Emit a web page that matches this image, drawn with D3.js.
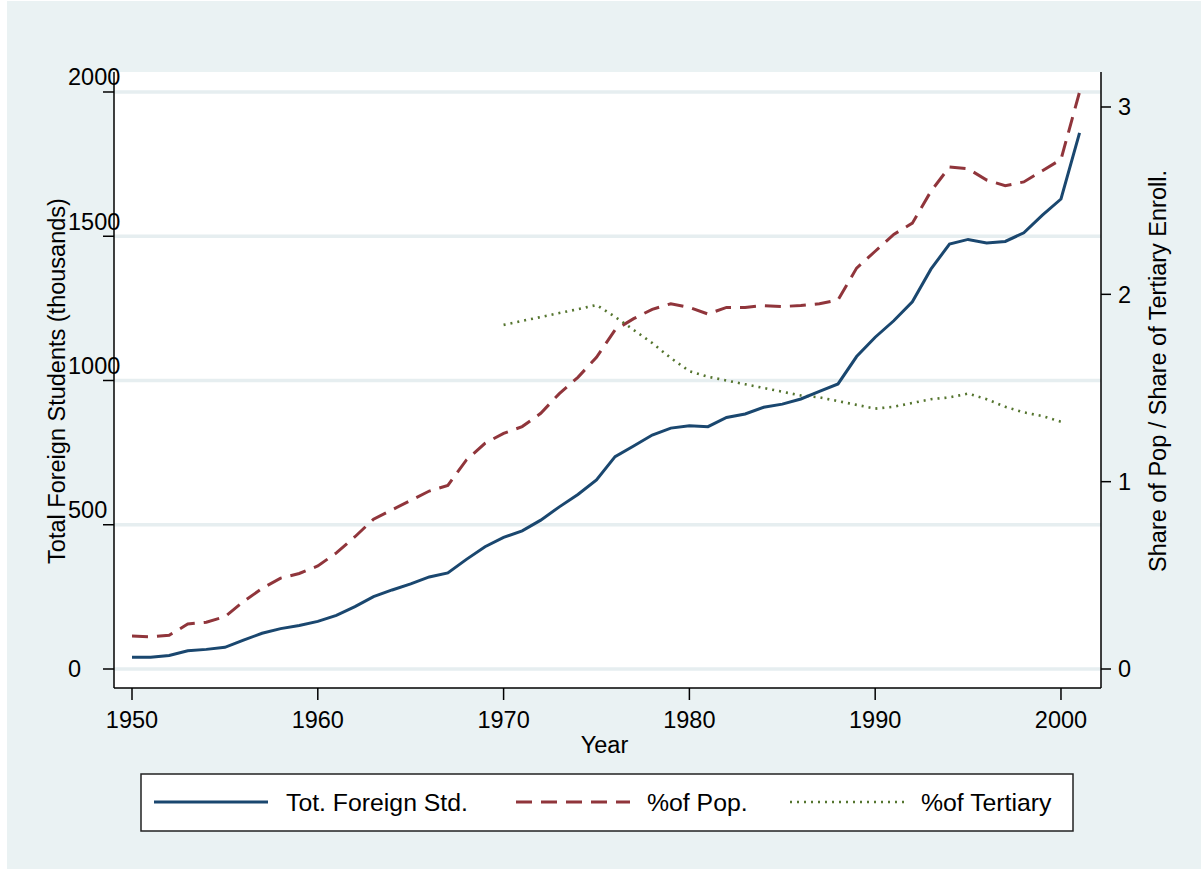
<!DOCTYPE html>
<html><head><meta charset="utf-8">
<script src="https://cdn.jsdelivr.net/npm/d3@7"></script>
<style>body{margin:0;background:#fff}svg{display:block}text{font-family:"Liberation Sans",Arial,sans-serif;fill:#000}</style>
</head><body><svg id="c" width="1201" height="869"></svg>
<script>
const years = d3.range(1950, 2002);
const totForeign = [41,41,47,63,68,75,100,124,140,151,165,186,216,251,274,295,319,333,380,424,456,479,516,562,605,655,736,773,811,835,843,840,872,884,907,918,936,962,988,1083,1150,1207,1273,1386,1473,1489,1477,1482,1512,1573,1629,1858];
const pctPop = [0.176,0.172,0.18,0.24,0.25,0.279,0.36,0.43,0.485,0.51,0.55,0.62,0.706,0.80,0.85,0.90,0.95,0.98,1.116,1.205,1.258,1.294,1.365,1.47,1.557,1.664,1.81,1.87,1.92,1.95,1.93,1.895,1.93,1.93,1.94,1.935,1.94,1.95,1.97,2.14,2.23,2.32,2.38,2.55,2.68,2.67,2.61,2.58,2.60,2.66,2.72,3.08];
const tertYears = d3.range(1970, 2001);
const pctTertiary = [1.837,1.858,1.879,1.900,1.921,1.943,1.88,1.81,1.74,1.66,1.59,1.56,1.54,1.52,1.50,1.48,1.46,1.45,1.43,1.41,1.39,1.40,1.42,1.44,1.45,1.47,1.44,1.40,1.37,1.35,1.32];
const xTicks = [1950,1960,1970,1980,1990,2000];
const yLeftTicks = [0,500,1000,1500,2000];
const yRightTicks = [0,1,2,3];
const legendLabels = ["Tot. Foreign Std.","%of Pop.","%of Tertiary"];

const svg = d3.select("#c");
const FONT = 23.5;
const bg = "#eaf2f3";
const L=114, R=1101, T=72, B=688;
svg.append("rect").attr("x",7).attr("y",1).attr("width",1194).attr("height",868).attr("fill",bg);
svg.append("rect").attr("x",L).attr("y",T).attr("width",R-L).attr("height",B-T).attr("fill","#fff");

const x = d3.scaleLinear().domain([1949.031,2002.154]).range([L,R]);
const yL = d3.scaleLinear().domain([-65.86,2069.3]).range([B,T]);
const yR = d3.scaleLinear().domain([-0.1014,3.1868]).range([B,T]);

// gridlines
svg.append("g").selectAll("line").data(yLeftTicks).join("line")
  .attr("x1",L).attr("x2",R).attr("y1",d=>yL(d)).attr("y2",d=>yL(d))
  .attr("stroke","#e6eef0").attr("stroke-width",3.5);

// lines
const colBlue="#1a476f", colRed="#90353b", colGreen="#55752f";
svg.append("path").datum(years.map((y,i)=>[y,pctPop[i]]))
  .attr("d",d3.line().x(d=>x(d[0])).y(d=>yR(d[1])))
  .attr("fill","none").attr("stroke",colRed).attr("stroke-width",3).attr("stroke-dasharray","16,9");
svg.append("path").datum(tertYears.map((y,i)=>[y,pctTertiary[i]]))
  .attr("d",d3.line().x(d=>x(d[0])).y(d=>yR(d[1])))
  .attr("fill","none").attr("stroke",colGreen).attr("stroke-width",2.6).attr("stroke-dasharray","2,5");
svg.append("path").datum(years.map((y,i)=>[y,totForeign[i]]))
  .attr("d",d3.line().x(d=>x(d[0])).y(d=>yL(d[1])))
  .attr("fill","none").attr("stroke",colBlue).attr("stroke-width",3);

// axes lines
const ax = svg.append("g").attr("stroke","#000").attr("stroke-width",1.5);
ax.append("line").attr("x1",L).attr("x2",L).attr("y1",T).attr("y2",B);
ax.append("line").attr("x1",R).attr("x2",R).attr("y1",T).attr("y2",B);
ax.append("line").attr("x1",L).attr("x2",R).attr("y1",B).attr("y2",B);

// x axis ticks
svg.append("g").selectAll("line").data(xTicks).join("line")
  .attr("x1",d=>x(d)).attr("x2",d=>x(d)).attr("y1",B).attr("y2",B+12)
  .attr("stroke","#000").attr("stroke-width",1.5);
svg.append("g").selectAll("text").data(xTicks).join("text")
  .attr("x",d=>x(d)).attr("y",728).attr("text-anchor","middle").attr("font-size",FONT).text(d=>d);
svg.append("text").attr("x",(L+R)/2-3).attr("y",753).attr("text-anchor","middle").attr("font-size",FONT).text("Year");

// left axis
svg.append("g").selectAll("line").data(yLeftTicks).join("line")
  .attr("x1",L-11).attr("x2",L).attr("y1",d=>yL(d)).attr("y2",d=>yL(d))
  .attr("stroke","#000").attr("stroke-width",1.5);
svg.append("g").selectAll("text").data(yLeftTicks).join("text")
  .attr("x",68).attr("y",d=>yL(d)).attr("dy",d=>d===0?"0.35em":"-0.28em")
  .attr("font-size",FONT).text(d=>d);
svg.append("text").attr("transform","translate(65,381) rotate(-90)").attr("text-anchor","middle")
  .attr("font-size",FONT).text("Total Foreign Students (thousands)");

// right axis
svg.append("g").selectAll("line").data(yRightTicks).join("line")
  .attr("x1",R).attr("x2",R+10).attr("y1",d=>yR(d)).attr("y2",d=>yR(d))
  .attr("stroke","#000").attr("stroke-width",1.5);
svg.append("g").selectAll("text").data(yRightTicks).join("text")
  .attr("x",1118).attr("y",d=>yR(d)).attr("dy","0.35em").attr("font-size",FONT).text(d=>d);
svg.append("text").attr("transform","translate(1166,371) rotate(-90)").attr("text-anchor","middle")
  .attr("font-size",FONT).text("Share of Pop / Share of Tertiary Enroll.");

// legend
const lg = svg.append("g");
lg.append("rect").attr("x",141).attr("y",774).attr("width",932).attr("height",57)
  .attr("fill","#fff").attr("stroke","#222").attr("stroke-width",1.5);
const legItems = [
  {x1:154,x2:268,tx:286,c:colBlue,w:3,da:null},
  {x1:516,x2:630,tx:647,c:colRed,w:3,da:"16,9"},
  {x1:790,x2:906,tx:921,c:colGreen,w:2.6,da:"2,5"}
];
legItems.forEach((it,i)=>{
  lg.append("line").attr("x1",it.x1).attr("x2",it.x2).attr("y1",802).attr("y2",802)
    .attr("stroke",it.c).attr("stroke-width",it.w).attr("stroke-dasharray",it.da);
  lg.append("text").attr("x",it.tx).attr("y",802).attr("dy","0.35em").attr("font-size",24.8).text(legendLabels[i]);
});
</script></body></html>
